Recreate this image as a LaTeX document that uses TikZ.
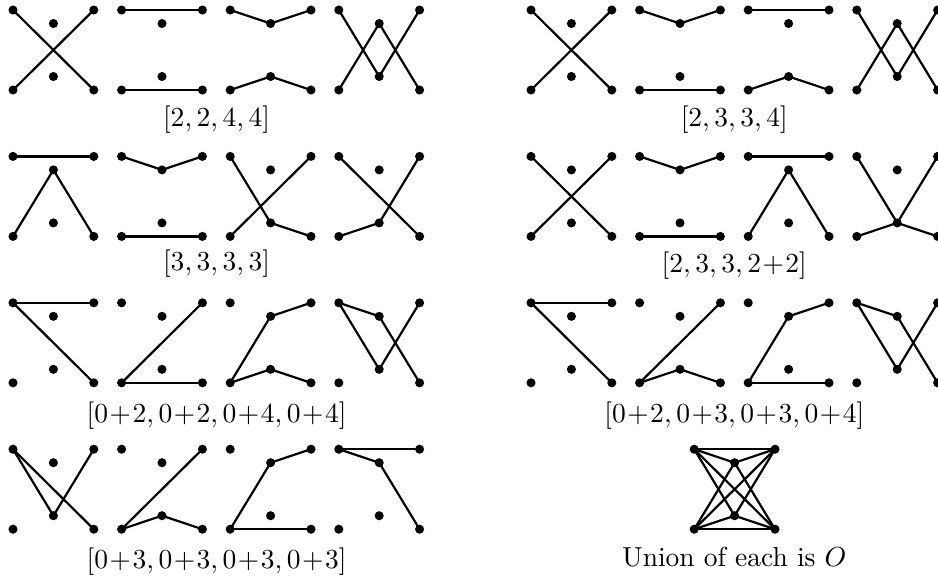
\documentclass[tikz,border=0pt]{standalone}
\tikzset{
  pt/.style={circle,fill=black,inner sep=0pt,minimum size=3.3pt},
  edge/.style={line width=0.8pt},
  lbl/.style={anchor=base,inner sep=0pt}
}
\newcommand\mkgraph[3]{%
  \node[pt] (#1TL) at (#2,#3) {};
  \node[pt] (#1TR) at ({#2+80.8},#3) {};
  \node[pt] (#1BL) at (#2,{#3+80}) {};
  \node[pt] (#1BR) at ({#2+80.8},{#3+80}) {};
  \node[pt] (#1T) at ({#2+40.4},{#3+13.5}) {};
  \node[pt] (#1B) at ({#2+40.4},{#3+66.5}) {};
}
\newcommand\mkedges[2]{\foreach \u/\v in {#2} {\draw[edge] (#1\u.center) -- (#1\v.center);}}
\newcommand\pl{\mkern1mu{+}\mkern1mu}
\begin{document}
\begin{tikzpicture}[x=0.3636pt,y=-0.3636pt]
\useasboundingbox (0,0) rectangle (938,578);
\clip (0,0) rectangle (938,578);
% row 1
\mkgraph{aa}{13}{10}\mkgraph{ab}{121.6}{10}\mkgraph{ac}{230.2}{10}\mkgraph{ad}{338.8}{10}
\mkedges{aa}{TL/BR,TR/BL}
\mkedges{ab}{TL/TR,BL/BR}
\mkedges{ac}{TL/T,T/TR,BL/B,B/BR}
\mkedges{ad}{TL/B,B/TR,BL/T,T/BR}
\node[lbl] (la) at (216.6,126) {$[2, 2, 4, 4]$};
\mkgraph{ba}{531}{10}\mkgraph{bb}{639.6}{10}\mkgraph{bc}{748.2}{10}\mkgraph{bd}{856.8}{10}
\mkedges{ba}{TL/BR,TR/BL}
\mkedges{bb}{TL/T,T/TR,BL/BR}
\mkedges{bc}{TL/TR,BL/B,B/BR}
\mkedges{bd}{TL/B,B/TR,BL/T,T/BR}
\node[lbl] (lb) at (734.3,126) {$[2, 3, 3, 4]$};
% row 2
\mkgraph{ca}{13}{156.4}\mkgraph{cb}{121.6}{156.4}\mkgraph{cc}{230.2}{156.4}\mkgraph{cd}{338.8}{156.4}
\mkedges{ca}{TL/TR,BL/T,T/BR}
\mkedges{cb}{TL/T,T/TR,BL/BR}
\mkedges{cc}{TL/B,B/BR,TR/BL}
\mkedges{cd}{TL/BR,TR/B,B/BL}
\node[lbl] (lc) at (216.6,270) {$[3, 3, 3, 3]$};
\mkgraph{da}{531}{156.4}\mkgraph{db}{639.6}{156.4}\mkgraph{dc}{748.2}{156.4}\mkgraph{dd}{856.8}{156.4}
\mkedges{da}{TL/BR,TR/BL}
\mkedges{db}{TL/T,T/TR,BL/BR}
\mkedges{dc}{TL/TR,BL/T,T/BR}
\mkedges{dd}{TL/B,TR/B,BL/B,BR/B}
\node[lbl] (ld) at (734.3,272.5) {$[2, 3, 3, 2\pl2]$};
% row 3
\mkgraph{ea}{13}{302.8}\mkgraph{eb}{121.6}{302.8}\mkgraph{ec}{230.2}{302.8}\mkgraph{ed}{338.8}{302.8}
\mkedges{ea}{TL/TR,TL/BR}
\mkedges{eb}{BL/TR,BL/BR}
\mkedges{ec}{BL/T,T/TR,BL/B,B/BR}
\mkedges{ed}{TL/T,T/BR,TL/B,B/TR}
\node[lbl] (le) at (216.6,422.3) {$[0\pl2, 0\pl2, 0\pl4, 0\pl4]$};
\mkgraph{fa}{531}{302.8}\mkgraph{fb}{639.6}{302.8}\mkgraph{fc}{748.2}{302.8}\mkgraph{fd}{856.8}{302.8}
\mkedges{fa}{TL/TR,TL/BR}
\mkedges{fb}{BL/TR,BL/B,B/BR}
\mkedges{fc}{BL/T,T/TR,BL/BR}
\mkedges{fd}{TL/T,T/BR,TL/B,B/TR}
\node[lbl] (lf) at (734.3,422.3) {$[0\pl2, 0\pl3, 0\pl3, 0\pl4]$};
% row 4
\mkgraph{ga}{13}{449.2}\mkgraph{gb}{121.6}{449.2}\mkgraph{gc}{230.2}{449.2}\mkgraph{gd}{338.8}{449.2}
\mkedges{ga}{TL/B,B/TR,TL/BR}
\mkedges{gb}{BL/TR,BL/B,B/BR}
\mkedges{gc}{BL/T,T/TR,BL/BR}
\mkedges{gd}{TL/TR,TL/T,T/BR}
\node[lbl] (lg) at (216.6,568.3) {$[0\pl3, 0\pl3, 0\pl3, 0\pl3]$};
\mkgraph{u}{694.2}{449.2}
\mkedges{u}{TL/TR,BL/BR,TL/T,T/TR,BL/B,B/BR,TL/BR,TR/BL,TL/B,B/TR,BL/T,T/BR}
\node[lbl] (lu) at (734.3,566.8) {Union of each is $O$};
\end{tikzpicture}
\end{document}
